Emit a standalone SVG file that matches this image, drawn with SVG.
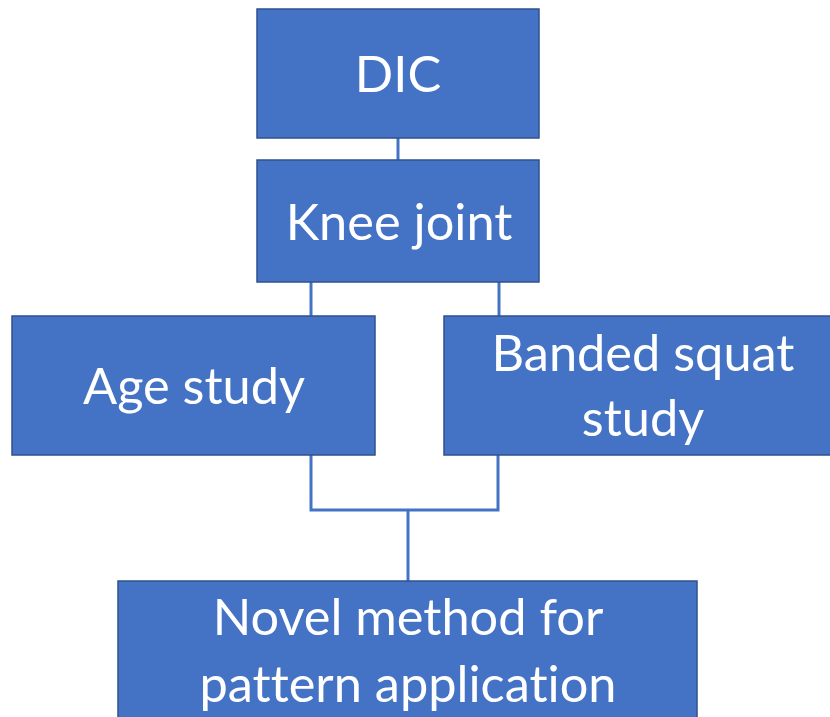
<svg xmlns="http://www.w3.org/2000/svg" width="830" height="717" viewBox="0 0 830 717">
<style>
.box{fill:#4472C4;stroke:#2F528F;stroke-width:1.5}
.lbl{fill:#FFFFFF;font-family:Lato,"Open Sans","Liberation Sans",sans-serif;font-size:50.5px;text-anchor:middle;font-variant-ligatures:none;font-feature-settings:"liga" 0}
.conn{fill:none;stroke:#4472C4;stroke-width:3}
</style>
<rect width="830" height="717" fill="#FFFFFF"/>
<g id="connectors">
<line class="conn" x1="398" y1="138" x2="398" y2="160"/>
<line class="conn" x1="311" y1="282" x2="311" y2="316"/>
<line class="conn" x1="499" y1="282" x2="499" y2="316"/>
<polyline class="conn" points="311,455 311,510 498,510 498,455"/>
<line class="conn" x1="408" y1="510" x2="408" y2="581"/>
</g>
<g id="dic">
<rect class="box" x="257" y="9" width="282" height="129"/>
<text class="lbl" x="398" y="92">DIC</text>
</g>
<g id="knee">
<rect class="box" x="257" y="160" width="282" height="122"/>
<text class="lbl" x="399" y="240">Knee joint</text>
</g>
<g id="age">
<rect class="box" x="12" y="316" width="363" height="139"/>
<text class="lbl" x="194" y="404">Age study</text>
</g>
<g id="banded">
<rect class="box" x="444" y="316" width="398" height="139"/>
<text class="lbl" x="643" y="371">Banded squat</text>
<text class="lbl" x="643" y="436">study</text>
</g>
<g id="novel">
<rect class="box" x="118" y="581" width="579" height="150"/>
<text class="lbl" x="408" y="635">Novel method for</text>
<text class="lbl" x="408" y="702">pattern application</text>
</g>
</svg>
